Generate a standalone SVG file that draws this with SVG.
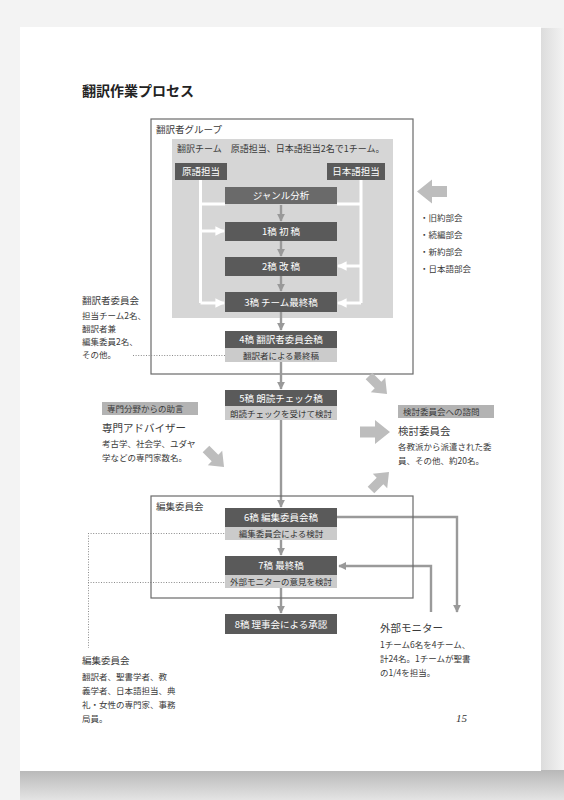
<svg xmlns="http://www.w3.org/2000/svg" width="564" height="800" viewBox="0 0 564 800">
<defs>
<linearGradient id="shb" x1="0" y1="0" x2="0" y2="1"><stop offset="0" stop-color="#b8b8b8"/><stop offset="1" stop-color="#e4e4e4"/></linearGradient>
<linearGradient id="shr" x1="0" y1="0" x2="1" y2="0"><stop offset="0" stop-color="#dcdcdc"/><stop offset="1" stop-color="#f3f3f3"/></linearGradient>
<marker id="ag" viewBox="0 0 10 10" refX="9" refY="5" markerWidth="3.4" markerHeight="3.4" orient="auto" markerUnits="strokeWidth"><path d="M0,0 L10,5 L0,10 Z" fill="#999"/></marker>
<marker id="aw" viewBox="0 0 10 10" refX="9" refY="5" markerWidth="3.2" markerHeight="3.2" orient="auto" markerUnits="strokeWidth"><path d="M0,0 L10,5 L0,10 Z" fill="#fff"/></marker>
<path id="big" d="M-15,-5.5 L0,-5.5 L0,-12 L15,0 L0,12 L0,5.5 L-15,5.5 Z" fill="#bdbdbd"/>
</defs>
<style>
text{font-family:"Noto Sans CJK JP","Noto Sans",sans-serif;fill:#3a3a3a}
.bx{fill:#5a5a5a}
.lt{fill:#cbcbcb}
.bt{fill:#fff;font-size:9.5px;text-anchor:middle}
.ltt{fill:#333;font-size:8.5px;text-anchor:middle}
.sm{font-size:8.5px}
.md{font-size:9.5px}
.hd{font-size:10.5px}
.fr{fill:none;stroke:#6a6a6a;stroke-width:1.2}
.gl{fill:none;stroke:#9a9a9a;stroke-width:2.4}
.wl{fill:none;stroke:#fff;stroke-width:3}
.dt{fill:none;stroke:#8a8a8a;stroke-width:1;stroke-dasharray:1 1.6}
.tag{fill:#b3b3b3}
</style>
<rect x="0" y="0" width="564" height="800" fill="#f3f3f3"/>
<rect x="20" y="770" width="544" height="30" fill="url(#shb)"/>
<rect x="541" y="28" width="23" height="742" fill="url(#shr)"/>
<rect x="20" y="27" width="521" height="744" fill="#fff"/>

<text x="82" y="96" style="font-size:14px;font-weight:bold;fill:#222">翻訳作業プロセス</text>

<g id="translator-group">
<rect class="fr" x="151" y="119" width="262" height="255"/>
<text class="md" x="156" y="133">翻訳者グループ</text>
</g>
<g id="translation-team">
<rect x="172" y="139" width="221" height="179" fill="#d6d6d6"/>
<text x="177" y="152" style="font-size:9px">翻訳チーム　原語担当、日本語担当2名で1チーム。</text>
</g>
<g id="source-lang">
<rect class="bx" x="175" y="163" width="52" height="17"/>
<text class="bt" x="201" y="175">原語担当</text>
</g>
<g id="japanese-lang">
<rect class="bx" x="327" y="163" width="58" height="17"/>
<text class="bt" x="356" y="175">日本語担当</text>
</g>

<g id="connectors">
<path class="wl" d="M200.5,180 V303 M361,180 V303 M200.5,204 H225 M361,204 H337"/>
<path class="wl" marker-end="url(#aw)" d="M200.5,231 H224"/>
<path class="wl" marker-end="url(#aw)" d="M200.5,303 H224"/>
<path class="wl" marker-end="url(#aw)" d="M361,266 H338"/>
<path class="wl" marker-end="url(#aw)" d="M361,303 H338"/>
<path class="gl" marker-end="url(#ag)" d="M281,205 V221"/>
<path class="gl" marker-end="url(#ag)" d="M281,241 V256"/>
<path class="gl" marker-end="url(#ag)" d="M281,276 V291"/>
<path class="gl" marker-end="url(#ag)" d="M281,312 V330"/>
<path class="gl" marker-end="url(#ag)" d="M281,362 V389"/>
<path class="gl" marker-end="url(#ag)" d="M281,420 V507"/>
<path class="gl" marker-end="url(#ag)" d="M281,540 V555"/>
<path class="gl" marker-end="url(#ag)" d="M281,588 V613"/>
<path class="gl" marker-end="url(#ag)" d="M337,517 H457 V612"/>
<path class="gl" marker-end="url(#ag)" d="M431,612 V566 H339"/>
<path class="dt" d="M133,355.5 H225"/>
<path class="dt" d="M88,533.5 H225 M88,582.5 H225 M88.5,533 V648"/>
<use href="#big" transform="translate(432,191.5) rotate(180)"/>
<use href="#big" transform="translate(378,385) rotate(45) scale(0.85)"/>
<use href="#big" transform="translate(375,432)"/>
<use href="#big" transform="translate(380,481) rotate(-45) scale(0.85)"/>
<use href="#big" transform="translate(215,458) rotate(45) scale(0.85)"/>
</g>

<g id="genre">
<rect x="225" y="187" width="112" height="17" fill="#6a6a6a"/>
<text class="bt" x="281" y="199">ジャンル分析</text>
</g>
<g id="draft1">
<rect class="bx" x="225" y="222" width="112" height="19"/>
<text class="bt" x="281" y="235">1稿 初 稿</text>
</g>
<g id="draft2">
<rect class="bx" x="225" y="257" width="112" height="19"/>
<text class="bt" x="281" y="270">2稿 改 稿</text>
</g>
<g id="draft3">
<rect class="bx" x="225" y="292" width="112" height="20"/>
<text class="bt" x="281" y="305.5">3稿 チーム最終稿</text>
</g>
<g id="draft4">
<rect class="bx" x="225" y="331" width="112" height="17"/>
<text class="bt" x="281" y="343">4稿 翻訳者委員会稿</text>
<rect class="lt" x="225" y="348" width="112" height="14"/>
<text class="ltt" x="281" y="358.5">翻訳者による最終稿</text>
</g>
<g id="draft5">
<rect class="bx" x="225" y="390" width="112" height="16"/>
<text class="bt" x="281" y="401.5">5稿 朗読チェック稿</text>
<rect class="lt" x="225" y="406" width="112" height="14"/>
<text class="ltt" x="281" y="416.5">朗読チェックを受けて検討</text>
</g>

<g id="editorial-committee">
<rect class="fr" x="151" y="496" width="262" height="102"/>
<text class="md" x="156" y="510">編集委員会</text>
</g>
<g id="draft6">
<rect class="bx" x="225" y="508" width="112" height="19"/>
<text class="bt" x="281" y="521">6稿 編集委員会稿</text>
<rect class="lt" x="225" y="527" width="112" height="13"/>
<text class="ltt" x="281" y="536.5">編集委員会による検討</text>
</g>
<g id="draft7">
<rect class="bx" x="225" y="556" width="112" height="19"/>
<text class="bt" x="281" y="569">7稿 最終稿</text>
<rect class="lt" x="225" y="575" width="112" height="13"/>
<text class="ltt" x="281" y="584.5">外部モニターの意見を検討</text>
</g>
<g id="draft8">
<rect class="bx" x="225" y="614" width="112" height="20"/>
<text class="bt" x="281" y="627.5">8稿 理事会による承認</text>
</g>

<g id="translator-committee">
<text class="md" x="82" y="304">翻訳者委員会</text>
<text class="sm" x="82" y="319">担当チーム2名、</text>
<text class="sm" x="82" y="332">翻訳者兼</text>
<text class="sm" x="82" y="345">編集委員2名、</text>
<text class="sm" x="82" y="358">その他。</text>
</g>
<g id="sections">
<text class="sm" x="420" y="221">・旧約部会</text>
<text class="sm" x="420" y="238">・続編部会</text>
<text class="sm" x="420" y="255">・新約部会</text>
<text class="sm" x="420" y="272">・日本語部会</text>
</g>
<g id="advisors">
<rect class="tag" x="102" y="402" width="96" height="13"/>
<text class="sm" x="107" y="412">専門分野からの助言</text>
<text class="hd" x="102" y="432">専門アドバイザー</text>
<text class="sm" x="102" y="447">考古学、社会学、ユダヤ</text>
<text class="sm" x="102" y="461">学などの専門家数名。</text>
</g>
<g id="review-committee">
<rect class="tag" x="398" y="405" width="96" height="13"/>
<text class="sm" x="403" y="415">検討委員会への諮問</text>
<text class="hd" x="398" y="435">検討委員会</text>
<text class="sm" x="398" y="450">各教派から派遣された委</text>
<text class="sm" x="398" y="464">員、その他、約20名。</text>
</g>
<g id="external-monitor">
<text class="hd" x="380" y="632">外部モニター</text>
<text class="sm" x="380" y="648">1チーム6名を4チーム、</text>
<text class="sm" x="380" y="662">計24名。1チームが聖書</text>
<text class="sm" x="380" y="676">の1/4を担当。</text>
</g>
<g id="editorial-members">
<text class="md" x="82" y="664">編集委員会</text>
<text class="sm" x="82" y="680">翻訳者、聖書学者、教</text>
<text class="sm" x="82" y="694">義学者、日本語担当、典</text>
<text class="sm" x="82" y="708">礼・女性の専門家、事務</text>
<text class="sm" x="82" y="722">局員。</text>
</g>
<text x="456" y="722" style="font-family:'Liberation Serif',serif;font-style:italic;font-size:11px;fill:#333">15</text>
</svg>
